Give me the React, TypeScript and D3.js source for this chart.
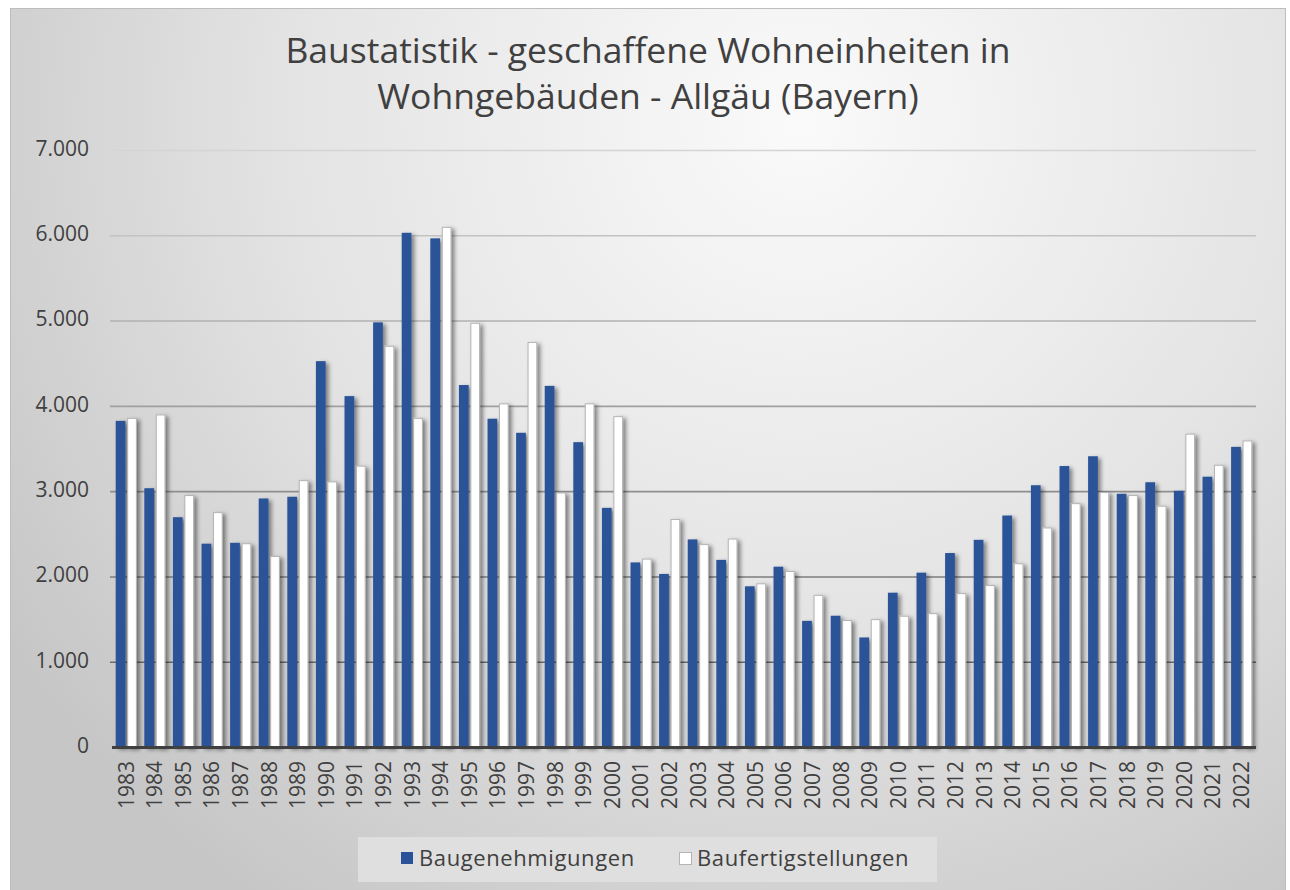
import React from "react";
import * as d3 from "d3";

const years = [
  "1983","1984","1985","1986","1987","1988","1989","1990","1991","1992",
  "1993","1994","1995","1996","1997","1998","1999","2000","2001","2002",
  "2003","2004","2005","2006","2007","2008","2009","2010","2011","2012",
  "2013","2014","2015","2016","2017","2018","2019","2020","2021","2022",
];
const baugenehmigungen = [
  3830, 3040, 2700, 2390, 2400, 2920, 2940, 4530, 4120, 4985,
  6035, 5970, 4250, 3855, 3690, 4240, 3580, 2810, 2170, 2035,
  2440, 2200, 1890, 2120, 1485, 1545, 1290, 1815, 2050, 2280,
  2435, 2720, 3075, 3300, 3415, 2975, 3110, 3010, 3175, 3525,
];
const baufertigstellungen = [
  3865, 3905, 2960, 2760, 2395, 2245, 3135, 3120, 3305, 4710,
  3865, 6105, 4980, 4035, 4755, 2990, 4035, 3885, 2215, 2680,
  2385, 2450, 1925, 2070, 1790, 1495, 1505, 1545, 1575, 1810,
  1905, 2160, 2580, 2865, 2995, 2960, 2835, 3680, 3315, 3600,
];
const yTicks = [0, 1000, 2000, 3000, 4000, 5000, 6000, 7000];
const seriesNames = ["Baugenehmigungen", "Baufertigstellungen"];
const titleLines = [
  "Baustatistik - geschaffene Wohneinheiten in",
  "Wohngebäuden - Allgäu (Bayern)",
];

const W = 1290;
const H = 890;
const plotLeft = 112;
const plotRight = 1256;
const plotTop = 150.5;
const plotBottom = 747.5;
const BLUE = "#2a5298";
const TEXT = "#404040";
const FONT = "'Open Sans', 'DejaVu Sans', sans-serif";

const fmt = (v: number) => (v === 0 ? "0" : d3.format(",")(v).replace(/,/g, "."));

export default function App() {
  const x0 = d3
    .scaleBand<string>()
    .domain(years)
    .range([plotLeft, plotRight])
    .paddingInner(0.26)
    .paddingOuter(0.13);
  const x1 = d3
    .scaleBand<string>()
    .domain(["a", "b"])
    .range([0, x0.bandwidth()])
    .paddingInner(0.15);
  const y = d3.scaleLinear().domain([0, 7000]).range([plotBottom, plotTop]);

  return (
    <svg
      width={W}
      height={H}
      style={{ position: "absolute", left: 0, top: 0, display: "block" }}
      fontFamily={FONT}
    >
      <defs>
        <radialGradient id="bg" gradientUnits="userSpaceOnUse" cx={800} cy={120} r={950}>
          <stop offset="0" stopColor="#fafafa" />
          <stop offset="0.55" stopColor="#e3e3e3" />
          <stop offset="1" stopColor="#c6c6c6" />
        </radialGradient>
        <linearGradient id="grid" gradientUnits="userSpaceOnUse" x1={0} y1={plotTop} x2={0} y2={plotBottom}>
          <stop offset="0" stopColor="#d4d4d4" />
          <stop offset="1" stopColor="#5a5a5a" />
        </linearGradient>
        <filter id="shadow" x="-50%" y="-10%" width="220%" height="130%">
          <feDropShadow dx={3} dy={2} stdDeviation={2} floodColor="#000" floodOpacity={0.45} />
        </filter>
      </defs>
      <rect x={0} y={0} width={W} height={H} fill="#ffffff" />
      <rect x={10.5} y={8.5} width={1275} height={885} fill="url(#bg)" stroke="#bdbdbd" strokeWidth={1} />

      {titleLines.map((t, i) => (
        <text
          key={i}
          x={648}
          y={63 + i * 46}
          textAnchor="middle"
          fontSize={35.5}
          fill={TEXT}
        >
          {t}
        </text>
      ))}

      {yTicks.map((t) => (
        <g key={t}>
          {t > 0 && (
            <line
              x1={plotLeft - 2}
              x2={plotRight}
              y1={y(t)}
              y2={y(t)}
              stroke="url(#grid)"
              strokeWidth={1.6}
            />
          )}
          <text
            x={89}
            y={y(t) - 2}
            dy="0.35em"
            textAnchor="end"
            fontSize={21}
            fill={TEXT}
          >
            {fmt(t)}
          </text>
        </g>
      ))}

      <g filter="url(#shadow)">
        {years.map((yr, i) => (
          <g key={yr}>
            <rect
              x={(x0(yr) as number) + (x1("a") as number)}
              y={y(baugenehmigungen[i])}
              width={x1.bandwidth()}
              height={plotBottom - y(baugenehmigungen[i])}
              fill={BLUE}
            />
            <rect
              x={(x0(yr) as number) + (x1("b") as number) + 0.5}
              y={y(baufertigstellungen[i]) + 0.5}
              width={x1.bandwidth() - 1}
              height={plotBottom - y(baufertigstellungen[i]) - 0.5}
              fill="#ffffff"
              stroke="#b4b4b4"
              strokeWidth={1}
            />
          </g>
        ))}
      </g>

      <line x1={plotLeft} x2={plotRight} y1={plotBottom} y2={plotBottom} stroke="#404040" strokeWidth={3} />

      {years.map((yr) => {
        const cx = (x0(yr) as number) + x0.bandwidth() / 2;
        return (
          <text
            key={yr}
            transform={`translate(${cx},${761}) rotate(-90)`}
            textAnchor="end"
            dy="0.35em"
            fontSize={21}
            fill={TEXT}
          >
            {yr}
          </text>
        );
      })}

      <rect x={358} y={837} width={579} height={45} fill="#dfdfdf" />
      <rect x={401} y={852} width={12} height={12} fill={BLUE} />
      <text x={419} y={858} dy="0.35em" fontSize={22} letterSpacing={0.6} fill={TEXT}>
        {seriesNames[0]}
      </text>
      <rect x={679.5} y={852.5} width={12} height={12} fill="#ffffff" stroke="#b4b4b4" />
      <text x={697} y={858} dy="0.35em" fontSize={22} letterSpacing={0.6} fill={TEXT}>
        {seriesNames[1]}
      </text>
    </svg>
  );
}
